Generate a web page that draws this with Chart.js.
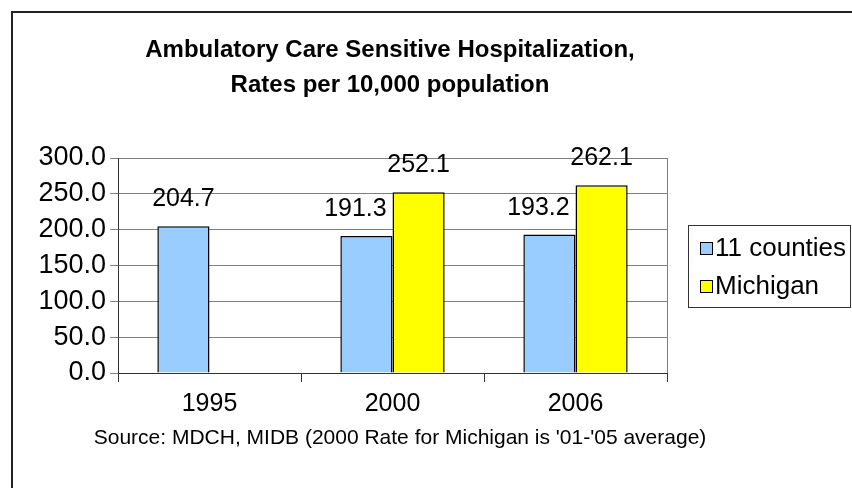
<!DOCTYPE html>
<html>
<head>
<meta charset="utf-8">
<script src="https://cdn.jsdelivr.net/npm/chart.js@4/dist/chart.umd.min.js"></script>
<style>
  html, body { margin: 0; padding: 0; background: #fff; }
  canvas { display: block; }
</style>
</head>
<body>
<canvas id="acsChart" width="852" height="488"></canvas>
<script>
// chart data
const years = ["1995", "2000", "2006"];
const countiesRates = [204.7, 191.3, 193.2];
const michiganRates = [null, 252.1, 262.1];
const seriesNames = ["11 counties", "Michigan"];
const seriesColors = ["#99CCFF", "#FFFF00"];
const titleLines = ["Ambulatory Care Sensitive Hospitalization,", "Rates per 10,000 population"];
const sourceNote = "Source: MDCH, MIDB (2000 Rate for Michigan is '01-'05 average)";

const FONT = "'Liberation Sans', Arial, sans-serif";

// titre, source, légende et étiquettes de valeurs
const decorPlugin = {
	id: "decor",
	afterDraw(chart) {
		const ctx = chart.ctx;
		ctx.save();

		// cadre extérieur
		ctx.strokeStyle = "#222";
		ctx.lineWidth = 2;
		ctx.strokeRect(12, 12, 900, 520);

		// titre
		ctx.fillStyle = "#000";
		ctx.textAlign = "center";
		ctx.textBaseline = "middle";
		ctx.font = "bold 24px " + FONT;
		ctx.fillText(titleLines[0], 390, 50);
		ctx.fillText(titleLines[1], 390, 85);

		// source
		ctx.font = "21px " + FONT;
		ctx.fillText(sourceNote, 400, 438);

		// étiquettes des barres
		ctx.font = "25px " + FONT;
		ctx.textBaseline = "alphabetic";
		chart.data.datasets.forEach((ds, di) => {
			const meta = chart.getDatasetMeta(di);
			meta.data.forEach((bar, i) => {
				const v = ds.data[i];
				if (v == null) return;
				// Excel décale le premier label quand la paire existe
				const nudge = di === 0 && michiganRates[i] != null ? -11 : 0;
				ctx.fillText(v.toFixed(1), bar.x + nudge, bar.y - 20);
			});
		});

		// légende
		ctx.strokeStyle = "#333";
		ctx.lineWidth = 1;
		ctx.strokeRect(688.5, 225.5, 162, 82);
		ctx.font = "26px " + FONT;
		ctx.textAlign = "left";
		ctx.textBaseline = "middle";
		seriesNames.forEach((name, i) => {
			const y = 242 + i * 38;
			ctx.fillStyle = seriesColors[i];
			ctx.fillRect(700, y, 12, 12);
			ctx.strokeStyle = "#000";
			ctx.strokeRect(700.5, y + 0.5, 12, 12);
			ctx.fillStyle = "#000";
			ctx.fillText(name, 715, y + 7);
		});

		ctx.restore();
	},
};

const bgPlugin = {
	id: "bg",
	beforeDraw(chart) {
		const ctx = chart.ctx;
		ctx.save();
		ctx.fillStyle = "#fff";
		ctx.fillRect(0, 0, chart.width, chart.height);
		ctx.restore();
	},
};

new Chart(document.getElementById("acsChart").getContext("2d"), {
	type: "bar",
	data: {
		labels: years,
		datasets: [
			{
				label: seriesNames[0],
				data: countiesRates,
				backgroundColor: seriesColors[0],
				borderColor: "#000",
				borderWidth: 1.5,
			},
			{
				label: seriesNames[1],
				data: michiganRates,
				backgroundColor: seriesColors[1],
				borderColor: "#000",
				borderWidth: 1.5,
			},
		],
	},
	options: {
		responsive: false,
		animation: false,
		categoryPercentage: 0.57,
		barPercentage: 1,
		layout: { padding: { top: 158, right: 185, left: 0, bottom: 0 } },
		plugins: {
			legend: { display: false },
			title: { display: false },
			tooltip: { enabled: false },
		},
		scales: {
			x: {
				grid: {
					offset: true,
					color: (c) => (c.type === "tick" ? "rgba(0,0,0,0)" : "#808080"),
					tickColor: "#333",
					tickLength: 9,
				},
				border: { color: "#333", width: 1 },
				ticks: { color: "#000", font: { family: FONT, size: 25 }, padding: 7 },
				afterFit: (s) => { s.height = 115; },
			},
			y: {
				min: 0,
				max: 300,
				ticks: {
					stepSize: 50,
					color: "#000",
					font: { family: FONT, size: 27 },
					padding: 4,
					callback: (v) => v.toFixed(1),
				},
				grid: { color: "#808080", tickLength: 8 },
				border: { color: "#333", width: 1 },
				afterFit: (s) => { s.width = 118; },
			},
		},
	},
	plugins: [bgPlugin, decorPlugin],
});
</script>
</body>
</html>
